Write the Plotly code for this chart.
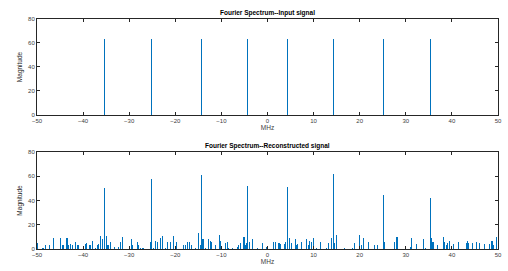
import plotly.graph_objects as go
from plotly.subplots import make_subplots

# Input signal spectrum (MHz, magnitude)
input_freq = [-35.3, -25.1, -14.3, -4.3, 4.3, 14.3, 25.1, 35.3]
input_mag = [63, 63, 63, 63, 63, 63, 63, 63]

# Reconstructed signal spectrum: main peaks
recon_peak_freq = [-35.3, -25.1, -14.3, -4.3, 4.3, 14.3, 25.1, 35.3]
recon_peak_mag = [50.5, 58, 61, 52, 51.5, 62, 44.6, 42.4]

# Reconstructed signal spectrum: small spurious components
noise_freq = [-49.9, -48.7, -48.2, -47.3, -46.5, -45.0, -44.5, -44.2, -43.5, -43.1,
              -42.7, -42.2, -41.7, -41.3, -41.0, -39.5, -39.2, -38.7, -38.4, -37.9,
              -37.3, -36.9, -36.6, -36.2, -35.7, -35.0, -34.8, -34.5, -34.1, -33.2,
              -32.3, -31.9, -31.5, -29.5, -29.2, -28.2, -27.9, -27.5, -27.0, -25.4,
              -24.7, -24.3, -23.9, -23.2, -22.7, -22.1, -21.7, -21.1, -20.4, -19.8,
              -18.3, -17.8, -17.4, -16.9, -16.5, -15.6, -14.9, -14.6, -14.0, -13.5,
              -12.7, -12.4, -12.2, -11.2, -10.4, -10.1, -9.2, -8.7, -8.4, -7.5,
              -6.6, -6.2, -5.9, -5.1, -4.8, -4.5, -4.0, -3.3, -2.1, -1.0,
              -0.25, 1.4, 1.8, 2.5, 2.8, 3.6, 3.9, 4.8, 5.3, 6.0,
              6.3, 6.6, 7.3, 8.4, 8.8, 9.1, 9.5, 9.9, 10.6, 11.5,
              12.8, 13.3, 13.8, 14.6, 14.9, 16.7, 18.4, 18.8, 20.0, 20.4,
              20.9, 22.0, 23.2, 23.8, 25.4, 27.6, 28.1, 31.1, 31.3, 32.4,
              33.9, 34.2, 35.6, 35.9, 36.1, 36.8, 38.1, 38.3, 38.8, 39.0,
              39.4, 40.4, 41.5, 43.1, 43.3, 43.7, 44.4, 45.4, 46.0, 47.1,
              48.1, 48.7, 49.1, 49.7]
noise_mag = [5, 1, 3, 3, 9, 9, 3, 3, 9, 3,
             4, 3, 5.5, 3, 3, 4.4, 4.7, 3, 3.6, 7,
             1, 3, 4, 11, 8, 11, 3, 3, 5.5, 2,
             2, 6, 10, 8, 3, 5.5, 3, 1, 1, 6,
             1, 7, 6, 9, 10.5, 1, 5.5, 6, 11, 6,
             3, 3, 5.5, 5.5, 3, 1, 13, 3, 8, 1,
             8, 7, 6, 3, 12, 7, 5, 6, 1, 1,
             2, 3, 4.7, 9.6, 3, 5, 6, 8, 1, 5,
             2, 6, 6, 5, 4, 4, 6, 9, 5, 8,
             3, 4, 5.5, 8, 3, 7, 6, 9, 1, 6,
             1, 5, 9, 5, 12, 1, 1, 5, 12, 3,
             9, 5.5, 3, 3, 5.5, 5.5, 10, 2, 9, 4,
             8, 1, 9, 6, 5.5, 3, 10, 5.5, 3, 5,
             7, 4, 5.5, 5, 7, 5, 5, 5.5, 5, 4,
             4, 7, 3, 10]

x_ticks = [-50, -40, -30, -20, -10, 0, 10, 20, 30, 40, 50]
y_ticks = [0, 20, 40, 60, 80]
titles = ["Fourier Spectrum--Input signal", "Fourier Spectrum--Reconstructed signal"]

BLUE = "#0072BD"
FONT = "Liberation Sans, Arial, sans-serif"

fig = make_subplots(rows=2, cols=1, vertical_spacing=0.0)

bw = 0.02
fig.add_trace(go.Bar(x=input_freq, y=input_mag, width=bw, marker=dict(color=BLUE, line_width=0)), row=1, col=1)
fig.add_trace(go.Bar(x=noise_freq + recon_peak_freq, y=noise_mag + recon_peak_mag, width=bw,
                     marker=dict(color=BLUE, line_width=0)), row=2, col=1)

axis_common = dict(showline=True, linecolor="#262626", linewidth=1, mirror="ticks",
                   ticks="inside", ticklen=3, tickcolor="#262626", showgrid=False, zeroline=False,
                   automargin=False,
                   tickfont=dict(size=6, color="#404040", family=FONT))
fig.update_xaxes(range=[-50, 50], tickvals=x_ticks, **axis_common)
fig.update_yaxes(range=[0, 80], tickvals=y_ticks, **axis_common)
fig.update_xaxes(title=dict(text="MHz", font=dict(size=6.5, color="#404040", family=FONT), standoff=2))
fig.update_yaxes(title=dict(text="Magnitude", font=dict(size=6.5, color="#262626", family=FONT), standoff=4))

fig.layout.yaxis.domain = [0.583, 1.0]
fig.layout.yaxis2.domain = [0.0, 0.422]

fig.add_annotation(text="<b>" + titles[0] + "</b>", xref="paper", yref="paper", x=0.5, y=1.0,
                   xanchor="center", yanchor="bottom", showarrow=False, yshift=0,
                   font=dict(size=6.5, color="#000000", family=FONT))
fig.add_annotation(text="<b>" + titles[1] + "</b>", xref="paper", yref="paper", x=0.5, y=0.422,
                   xanchor="center", yanchor="bottom", showarrow=False, yshift=0,
                   font=dict(size=6.5, color="#000000", family=FONT))

fig.update_layout(width=508, height=271, margin=dict(l=37, r=10, t=19, b=22),
                  paper_bgcolor="white", plot_bgcolor="white", showlegend=False, bargap=0)

fig.write_html("out.html", config={"displayModeBar": False},
               post_script="document.body.style.margin='0';document.body.style.overflow='hidden';")
